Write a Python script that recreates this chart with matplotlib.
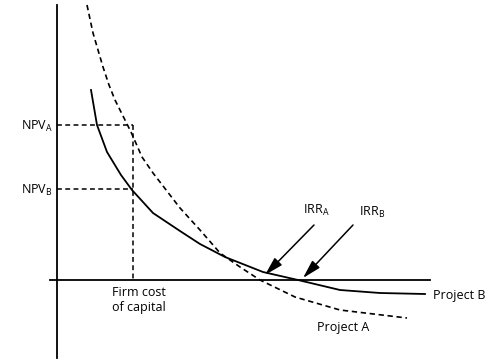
import matplotlib
matplotlib.use('Agg')
import matplotlib.pyplot as plt

plt.rcParams['font.family'] = ['Open Sans', 'DejaVu Sans']
plt.rcParams['mathtext.fontset'] = 'custom'
plt.rcParams['mathtext.rm'] = 'Open Sans'

# NPV profiles (x = discount rate, y = NPV, arbitrary units)
rate_a = [30, 36, 46, 52, 58, 67, 74, 85, 96, 123, 143, 163, 173, 183, 203, 238, 283, 350]
npv_a = [275, 247, 213, 195, 180, 162, 148, 123, 107, 72, 50, 27, 20, 13, 0, -17, -30, -38]
rate_b = [34, 40, 50, 64, 75, 96, 123, 143, 168, 206, 241, 283, 323, 368]
npv_b = [190, 155, 128, 105, 90, 67, 49, 36, 23, 8, 0, -10, -13, -14]

cost_of_capital = 76
npv_at_cost_a = 155
npv_at_cost_b = 91
irr_a = 208
irr_b = 246

fig = plt.figure(figsize=(5, 3.64), dpi=100)
ax = fig.add_axes([0, 0, 1, 1])
ax.set_xlim(-57, 443)
ax.set_ylim(-84, 280)
ax.axis('off')

# axes drawn as plain lines
ax.plot([-7, 373], [0, 0], color='black', lw=1.3)
ax.plot([0, 0], [-78, 275], color='black', lw=1.3)

dash = (0, (3.2, 2.2))
ax.plot(rate_a, npv_a, color='black', lw=1.2, linestyle=dash)
ax.plot(rate_b, npv_b, color='black', lw=1.3)

# guide lines at the firm's cost of capital
ax.plot([0, cost_of_capital], [npv_at_cost_a, npv_at_cost_a], color='black', lw=1.1, linestyle=dash)
ax.plot([0, cost_of_capital], [npv_at_cost_b, npv_at_cost_b], color='black', lw=1.1, linestyle=dash)
ax.plot([cost_of_capital, cost_of_capital], [npv_at_cost_a, 0], color='black', lw=1.1, linestyle=dash)

fs = 9
ax.text(-4, 150, r'NPV$_\mathrm{A}$', ha='right', va='baseline', fontsize=fs)
ax.text(-4, 86, r'NPV$_\mathrm{B}$', ha='right', va='baseline', fontsize=fs)
ax.text(55, -6, 'Firm cost\nof capital', ha='left', va='top', fontsize=fs, linespacing=1.25)
ax.text(376, -15, 'Project B', ha='left', va='center', fontsize=fs)
ax.text(286, -47, 'Project A', ha='center', va='center', fontsize=fs)

arrow = dict(arrowstyle='-|>,head_length=0.8,head_width=0.22', color='black', lw=1.1,
             mutation_scale=14, shrinkA=0, shrinkB=0)
ax.annotate('', xy=(irr_a, 5), xytext=(257, 55), arrowprops=arrow)
ax.annotate('', xy=(irr_b, 2), xytext=(296, 55), arrowprops=arrow)
ax.text(246, 66, r'IRR$_\mathrm{A}$', ha='left', va='baseline', fontsize=fs)
ax.text(302, 64, r'IRR$_\mathrm{B}$', ha='left', va='baseline', fontsize=fs)

fig.savefig('out.png', dpi=100)
